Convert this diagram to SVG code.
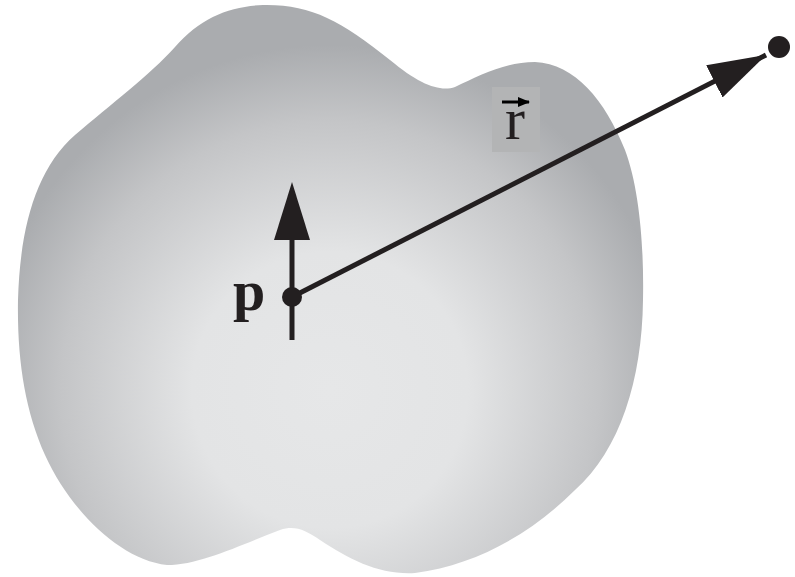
<svg xmlns="http://www.w3.org/2000/svg" width="795" height="577" viewBox="0 0 795 577">
<defs>
<radialGradient id="g" gradientUnits="userSpaceOnUse" cx="330" cy="390" r="345">
<stop offset="0" stop-color="#e6e7e8"/>
<stop offset="0.4" stop-color="#e3e4e5"/>
<stop offset="0.78" stop-color="#c4c5c7"/>
<stop offset="1" stop-color="#aaacaf"/>
</radialGradient>
<marker id="ah" markerUnits="userSpaceOnUse" markerWidth="60" markerHeight="40" refX="58" refY="20" orient="auto" viewBox="0 0 60 40">
<path d="M0,2 L58,20 L0,38 Z" fill="#231f20"/>
</marker>
<marker id="sh" markerUnits="userSpaceOnUse" markerWidth="12" markerHeight="10" refX="11" refY="5" orient="auto" viewBox="0 0 12 10">
<path d="M0,0 L12,5 L0,10 Z" fill="#000"/>
</marker>
</defs>
<style>
.ln{stroke:#231f20;stroke-width:5;fill:none}
.dot{fill:#231f20}
.lab{font-family:"Liberation Serif","Times New Roman",serif;fill:#231f20}
</style>
<g id="body">
<path d="M18,300 C20,230 35,170 75,135 C110,105 150,75 175,47 C200,18 230,6 263,5 C310,4 340,20 390,60 C420,85 440,92 455,87 C480,75 505,62 535,62 C575,64 605,100 625,150 C640,190 644,250 643,300 C642,380 620,450 575,490 C530,535 475,565 415,573 C380,575 350,560 320,540 C305,530 295,525 280,530 C240,545 200,565 167,565 C120,560 70,510 45,455 C25,410 17,360 18,300 Z" fill="url(#g)"/>
</g>
<g id="label-r">
<rect x="492" y="87" width="48" height="65" fill="#b3b4b5"/>
<line x1="502" y1="102" x2="529" y2="102" stroke="#000" stroke-width="3" marker-end="url(#sh)"/>
<text class="lab" x="515" y="139" font-size="60" text-anchor="middle">r</text>
</g>
<g id="connectors">
<line class="ln" x1="292" y1="297" x2="766" y2="55" marker-end="url(#ah)"/>
<line class="ln" x1="292" y1="340" x2="292" y2="238"/>
<path d="M292,182 L310,240 L274,240 Z" class="dot"/>
</g>
<g id="point-p">
<circle cx="292" cy="297" r="10" class="dot"/>
<text class="lab" x="233" y="310" font-size="58" font-weight="bold">p</text>
</g>
<g id="point-r">
<circle cx="779" cy="47" r="11" class="dot"/>
</g>
</svg>
